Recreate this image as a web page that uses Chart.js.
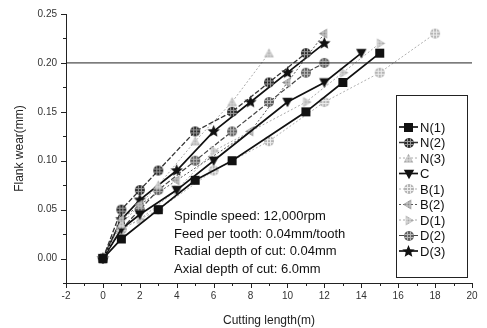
<!DOCTYPE html>
<html lang="en">
<head>
  <meta charset="UTF-8">
  <title>Flank wear vs cutting length</title>
  <script src="https://cdn.jsdelivr.net/npm/chart.js"></script>
  <style>
    body {
      margin: 0;
      padding: 0;
      background: #fff;
    }
    #wrap {
      width: 487px;
      height: 328px;
    }
  </style>
</head>
<body>
  <div id="wrap">
    <canvas id="wearChart" width="487" height="328"></canvas>
  </div>

  <script>
    // cutting length (m) / flank wear (mm) for each test condition
    const n1X = [0, 1, 3, 5, 7, 11, 13, 15];
    const n1Y = [0, 0.02, 0.05, 0.08, 0.10, 0.15, 0.18, 0.21];
    const n2X = [0, 1, 2, 3, 5, 7, 9, 11];
    const n2Y = [0, 0.05, 0.07, 0.09, 0.13, 0.15, 0.18, 0.21];
    const n3X = [0, 1, 3, 5, 7, 9];
    const n3Y = [0, 0.035, 0.075, 0.12, 0.16, 0.21];
    const cX = [0, 1, 2, 4, 6, 10, 12, 14];
    const cY = [0, 0.03, 0.045, 0.07, 0.10, 0.16, 0.18, 0.21];
    const b1X = [0, 1, 3, 6, 9, 12, 15, 18];
    const b1Y = [0, 0.03, 0.05, 0.09, 0.12, 0.16, 0.19, 0.23];
    const b2X = [0, 1, 2, 4, 8, 10, 12];
    const b2Y = [0, 0.04, 0.055, 0.08, 0.13, 0.18, 0.23];
    const d1X = [0, 1, 2, 4, 6, 11, 13, 15];
    const d1Y = [0, 0.03, 0.04, 0.07, 0.11, 0.16, 0.19, 0.22];
    const d2X = [0, 1, 2, 3, 5, 7, 9, 11, 12];
    const d2Y = [0, 0.03, 0.05, 0.07, 0.10, 0.13, 0.16, 0.19, 0.20];
    const d3X = [0, 1, 2, 4, 6, 8, 10, 12];
    const d3Y = [0, 0.04, 0.06, 0.09, 0.13, 0.16, 0.19, 0.22];

    const seriesNames = ['N(1)', 'N(2)', 'N(3)', 'C', 'B(1)', 'B(2)', 'D(1)', 'D(2)', 'D(3)'];
    const wearLimit = 0.20;
    const xTickValues = [-2, 0, 2, 4, 6, 8, 10, 12, 14, 16, 18, 20];
    const yTickValues = [0, 0.05, 0.10, 0.15, 0.20, 0.25];
    const conditions = [
      'Spindle speed: 12,000rpm',
      'Feed per tooth: 0.04mm/tooth',
      'Radial depth of cut: 0.04mm',
      'Axial depth of cut: 6.0mm'
    ];

    const FONT = '"Liberation Sans", Arial, sans-serif';

    // small canvas symbols, filled and optionally cross-hatched
    function makeMarker(shape, size, fill, hatch) {
      const s = size + 2;
      const c = document.createElement('canvas');
      c.width = s; c.height = s;
      const g = c.getContext('2d');
      const r = size / 2, cx = s / 2, cy = s / 2;
      g.beginPath();
      if (shape === 'square') {
        g.rect(cx - r, cy - r, size, size);
      } else if (shape === 'circle') {
        g.arc(cx, cy, r, 0, Math.PI * 2);
      } else if (shape === 'star') {
        for (let i = 0; i < 10; i++) {
          const a = -Math.PI / 2 + i * Math.PI / 5;
          const rr = i % 2 ? r * 0.45 : r;
          g.lineTo(cx + rr * Math.cos(a), cy + rr * Math.sin(a));
        }
        g.closePath();
      } else {
        // triangles: up, down, left, right
        const rot = { up: 0, right: Math.PI / 2, down: Math.PI, left: -Math.PI / 2 }[shape];
        for (let i = 0; i < 3; i++) {
          const a = -Math.PI / 2 + rot + i * 2 * Math.PI / 3;
          g.lineTo(cx + r * Math.cos(a), cy + r * 1.05 * Math.sin(a) + (shape === 'up' ? 1 : shape === 'down' ? -1 : 0));
        }
        g.closePath();
      }
      g.fillStyle = fill;
      g.fill();
      if (hatch) {
        g.save();
        g.clip();
        g.strokeStyle = hatch;
        g.lineWidth = 1;
        g.beginPath();
        [-2, 1].forEach(o => {
          g.moveTo(cx + o + 0.5, 0); g.lineTo(cx + o + 0.5, s);
          g.moveTo(0, cy + o + 0.5); g.lineTo(s, cy + o + 0.5);
        });
        g.stroke();
        g.restore();
      }
      return c;
    }

    const styles = [
      { color: '#111', dash: [], width: 1.7, marker: makeMarker('square', 9, '#111') },
      { color: '#333', dash: [5, 2], width: 1.3, marker: makeMarker('circle', 10, '#2a2a2a', '#999') },
      { color: '#aaa', dash: [2, 2], width: 1, marker: makeMarker('up', 11, '#a8a8a8', '#e0e0e0') },
      { color: '#111', dash: [], width: 1.7, marker: makeMarker('down', 12, '#111') },
      { color: '#b0b0b0', dash: [2, 2], width: 1, marker: makeMarker('circle', 10, '#b4b4b4', '#eee') },
      { color: '#555', dash: [2, 2], width: 1, marker: makeMarker('left', 11, '#8a8a8a', '#ccc') },
      { color: '#aaa', dash: [2, 2], width: 1, marker: makeMarker('right', 11, '#a8a8a8', '#e0e0e0') },
      { color: '#444', dash: [5, 2], width: 1.2, marker: makeMarker('circle', 10, '#606060', '#b5b5b5') },
      { color: '#111', dash: [], width: 1.7, marker: makeMarker('star', 13, '#111') }
    ];

    const xs = [n1X, n2X, n3X, cX, b1X, b2X, d1X, d2X, d3X];
    const ys = [n1Y, n2Y, n3Y, cY, b1Y, b2Y, d1Y, d2Y, d3Y];

    const datasets = seriesNames.map((name, i) => ({
      label: name,
      data: xs[i].map((x, k) => ({ x: x, y: ys[i][k] })),
      borderColor: styles[i].color,
      borderWidth: styles[i].width,
      borderDash: styles[i].dash,
      pointStyle: styles[i].marker,
      pointRadius: 5,
      tension: 0,
      fill: false
    }));

    // reference limit across the full x range
    datasets.unshift({
      label: 'limit',
      data: [{ x: -2, y: wearLimit }, { x: 20, y: wearLimit }],
      borderColor: '#222',
      borderWidth: 1,
      pointRadius: 0,
      fill: false
    });

    // outward major/minor ticks on both axes
    const tickMarks = {
      id: 'tickMarks',
      afterDraw(chart) {
        const g = chart.ctx, xS = chart.scales.x, yS = chart.scales.y;
        const area = chart.chartArea;
        g.save();
        g.strokeStyle = '#222';
        g.lineWidth = 1;
        g.beginPath();
        for (let v = -2; v <= 20; v++) {
          const px = Math.round(xS.getPixelForValue(v)) + 0.5;
          g.moveTo(px, area.bottom);
          g.lineTo(px, area.bottom + (v % 2 === 0 ? 5 : 3));
        }
        for (let k = -1; k <= 10; k++) {
          const py = Math.round(yS.getPixelForValue(k * 0.025)) + 0.5;
          g.moveTo(area.left, py);
          g.lineTo(area.left - (k % 2 === 0 ? 5 : 3), py);
        }
        g.stroke();
        g.restore();
      }
    };

    // boxed legend inside the plot and the cutting conditions text
    const legendBox = {
      id: 'legendBox',
      afterDraw(chart) {
        const g = chart.ctx;
        g.save();
        g.strokeStyle = '#222';
        g.lineWidth = 1;
        g.strokeRect(396.5, 95.5, 71, 182);
        g.font = '13px ' + FONT;
        g.fillStyle = '#111';
        g.textBaseline = 'middle';
        seriesNames.forEach((name, i) => {
          const y = 127 + i * 15.5;
          g.strokeStyle = styles[i].color;
          g.lineWidth = styles[i].width;
          g.setLineDash(styles[i].dash);
          g.beginPath();
          g.moveTo(399, y);
          g.lineTo(418, y);
          g.stroke();
          g.setLineDash([]);
          const m = styles[i].marker;
          g.drawImage(m, Math.round(408.5 - m.width / 2), Math.round(y - m.height / 2));
          g.fillText(name, 420, y + 1);
        });
        g.font = '13px ' + FONT;
        g.textBaseline = 'alphabetic';
        conditions.forEach((t, i) => g.fillText(t, 174, 220 + i * 17.6));
        g.restore();
      }
    };

    new Chart(document.getElementById('wearChart'), {
      type: 'line',
      data: { datasets },
      options: {
        responsive: false,
        animation: false,
        layout: { padding: { top: 14, right: 15, left: 0, bottom: 0 } },
        plugins: {
          legend: { display: false },
          tooltip: { enabled: false }
        },
        scales: {
          x: {
            type: 'linear',
            min: -2,
            max: 20,
            afterBuildTicks: s => { s.ticks = xTickValues.map(v => ({ value: v })); },
            afterFit: s => { s.height = 45; },
            grid: { display: false, drawTicks: true, tickLength: 4 },
            border: { display: true, color: '#222', width: 1 },
            ticks: {
              color: '#333',
              padding: 3,
              maxRotation: 0,
              font: { family: FONT, size: 10 },
              callback: v => String(v)
            },
            title: {
              display: true,
              text: 'Cutting length(m)',
              color: '#222',
              padding: { top: 2, bottom: 0 },
              font: { family: FONT, size: 12 }
            }
          },
          y: {
            type: 'linear',
            min: -0.025,
            max: 0.25,
            afterBuildTicks: s => { s.ticks = yTickValues.map(v => ({ value: v })); },
            afterFit: s => { s.width = 66; },
            grid: { display: false, drawTicks: true, tickLength: 5 },
            border: { display: true, color: '#222', width: 1 },
            ticks: {
              color: '#333',
              padding: 4,
              font: { family: FONT, size: 10 },
              callback: v => Number(v).toFixed(2)
            },
            title: {
              display: true,
              text: 'Flank wear(mm)',
              color: '#222',
              padding: { top: 12, bottom: 0 },
              font: { family: FONT, size: 12 }
            }
          }
        }
      },
      plugins: [tickMarks, legendBox]
    });
  </script>
</body>
</html>
